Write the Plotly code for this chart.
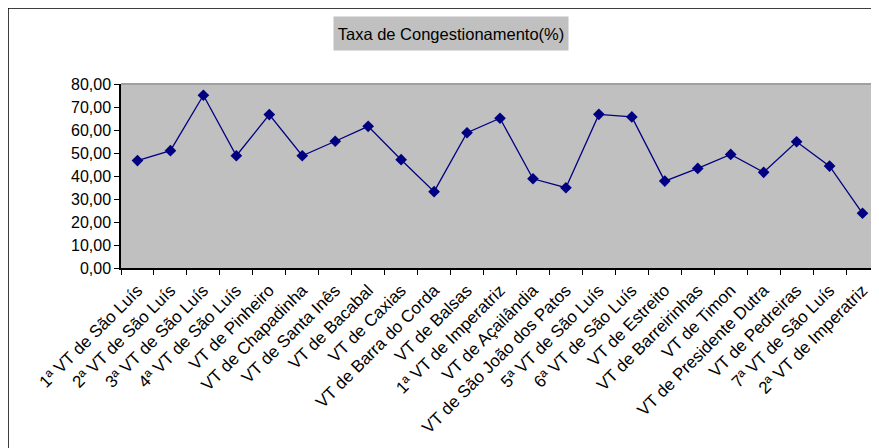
import plotly.graph_objects as go

categories = [
    "1ª VT de São Luís", "2ª VT de São Luís", "3ª VT de São Luís", "4ª VT de São Luís",
    "VT de Pinheiro", "VT de Chapadinha", "VT de Santa Inês", "VT de Bacabal",
    "VT de Caxias", "VT de Barra do Corda", "VT de Balsas", "1ª VT de Imperatriz",
    "VT de Açailândia", "VT de São João dos Patos", "5ª VT de São Luís", "6ª VT de São Luís",
    "VT de Estreito", "VT de Barreirinhas", "VT de Timon", "VT de Presidente Dutra",
    "VT de Pedreiras", "7ª VT de São Luís", "2ª VT de Imperatriz",
]
values = [46.7, 51.0, 75.1, 48.8, 66.7, 48.8, 55.1, 61.6, 47.1, 33.2, 58.8, 65.1,
          38.8, 34.9, 66.8, 65.7, 37.8, 43.3, 49.4, 41.6, 54.9, 44.3, 23.8]
y_ticks = [0, 10, 20, 30, 40, 50, 60, 70, 80]
title_text = "Taxa de Congestionamento(%)"

# page body has an 8px margin; figure coordinates are page coordinates minus 8
OFF = 8
W, H = 879 - OFF, 448 - OFF
L, T = 121 - OFF, 84 - OFF
R = 0
B = H - (268 - OFF)
pw = W - L - R
ph = H - T - B

def px_x(x):
    return (x - OFF - L) / pw

def px_y(y):
    return (H - B - (y - OFF)) / ph

fig = go.Figure()
fig.add_trace(go.Scatter(
    x=categories, y=values, mode="lines+markers",
    line=dict(color="#000080", width=1.3),
    marker=dict(symbol="diamond", size=9, color="#000080"),
    hoverinfo="x+y",
))

font_family = "Liberation Sans, Arial, sans-serif"
fig.update_layout(
    width=W, height=H,
    margin=dict(l=L, r=R, t=T, b=B, autoexpand=False),
    paper_bgcolor="white",
    plot_bgcolor="#C0C0C0",
    showlegend=False,
    separators=",.",
    font=dict(family=font_family, size=16, color="black"),
    xaxis=dict(
        type="category", tickangle=-45, tickson="boundaries",
        ticks="outside", ticklen=5, tickcolor="black", tickwidth=1,
        showline=True, linecolor="black", linewidth=1.5,
        showgrid=False, zeroline=False,
        tickfont=dict(size=17, family=font_family),
        ticklabelstandoff=4,
        range=[-0.5, len(categories) - 0.5],
    ),
    yaxis=dict(
        range=[0, 80], tickvals=y_ticks, tickformat=".2f",
        ticks="outside", ticklen=5, tickcolor="black", tickwidth=1,
        showline=True, linecolor="black", linewidth=1.5,
        showgrid=False, zeroline=False,
        tickfont=dict(size=16, family=font_family),
    ),
    shapes=[
        dict(type="rect", xref="paper", yref="paper",
             x0=px_x(8), x1=px_x(W + 40), y0=px_y(H + 40), y1=px_y(8),
             line=dict(color="black", width=1.5), fillcolor="rgba(0,0,0,0)", layer="below"),
        dict(type="line", xref="paper", yref="paper",
             x0=0, x1=1, y0=1, y1=1, line=dict(color="#A0A0A0", width=2)),
    ],
    annotations=[
        dict(text=title_text, xref="paper", yref="paper",
             x=px_x(451), y=px_y(33), xanchor="center", yanchor="middle",
             showarrow=False, bgcolor="#C0C0C0", width=232, height=31,
             font=dict(size=16.5, family=font_family, color="black")),
    ],
)

fig.write_html("out.html")
